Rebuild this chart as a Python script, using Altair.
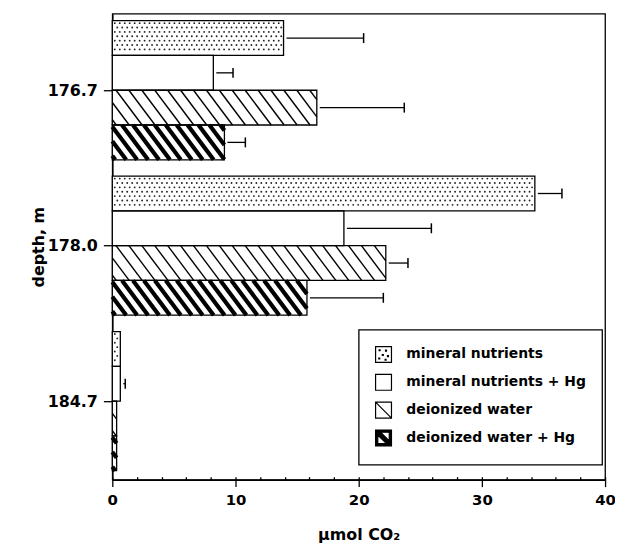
import json
import altair as alt
import pandas as pd

# ---------------- data ----------------
depths = ["176.7", "178.0", "184.7"]
series = ["mineral nutrients", "mineral nutrients + Hg",
          "deionized water", "deionized water + Hg"]
mn_mean = [13.9, 34.3, 0.65]
mn_hg_mean = [8.2, 18.8, 0.65]
dw_mean = [16.6, 22.2, 0.35]
dw_hg_mean = [9.1, 15.8, 0.35]
# end of the error bar (mean + sd); None = no error bar drawn
mn_top = [20.4, 36.5, None]
mn_hg_top = [9.8, 25.9, 1.05]
dw_top = [23.7, 24.0, None]
dw_hg_top = [10.8, 22.0, None]
x_ticks = [0, 10, 20, 30, 40]
x_minor_ticks = list(range(0, 41, 2))

# ---------------- layout parameters ----------------
W, H = 496, 469
X_MAX = 40
BAR = 1.0           # one bar = one y unit
GROUP_GAP = 0.47
TOP_PAD = 0.2
Y_MAX = 13.4
KX = W / X_MAX      # px per x unit
KY = H / Y_MAX      # px per y unit
PERIOD = len(series) * BAR + GROUP_GAP

means = [mn_mean, mn_hg_mean, dw_mean, dw_hg_mean]
tops = [mn_top, mn_hg_top, dw_top, dw_hg_top]

rows = []
for g, d in enumerate(depths):
    base = TOP_PAD + g * PERIOD
    for s, name in enumerate(series):
        y0 = base + s * BAR
        t = tops[s][g]
        rows.append(dict(depth=d, series=name, s=s, start=0.0,
                         value=means[s][g],
                         top=float("nan") if t is None else t,
                         y0=y0, y1=y0 + BAR, ymid=y0 + BAR / 2))
bars = pd.DataFrame(rows)


def hatch(recs, period_px, slope=0.75, phase=0.0):
    segs = []
    for r in recs:
        wpx = r["value"] * KX
        hpx = BAR * KY
        c = -slope * hpx + phase
        while c < wpx:
            t1 = max(0.0, -c / slope)
            t2 = min(hpx, (wpx - c) / slope)
            if t2 > t1:
                segs.append(dict(x=(c + slope * t1) / KX, x2=(c + slope * t2) / KX,
                                 y=r["y0"] + t1 / KY, y2=r["y0"] + t2 / KY))
            c += period_px
    return pd.DataFrame(segs)


def stipple(recs, dx=5.0, dy=4.4, margin=2.2):
    pts = []
    for r in recs:
        wpx = r["value"] * KX
        hpx = BAR * KY
        k = 0
        t = margin + 0.3
        while t < hpx - margin + 0.3:
            xo = margin + 0.3 + (dx / 2 if k % 2 else 0.0)
            while xo < wpx - margin + 0.3:
                pts.append(dict(x=xo / KX, y=r["y0"] + t / KY))
                xo += dx
            t += dy
            k += 1
    return pd.DataFrame(pts)


recs = bars.to_dict("records")
thin_hatch = hatch([r for r in recs if r["s"] == 2], 13.0, phase=4.0)
thick_hatch = hatch([r for r in recs if r["s"] == 3], 11.0, phase=3.0)
dots = stipple([r for r in recs if r["s"] == 0])

err = bars.dropna(subset=["top"]).copy()
err["xs"] = err["value"] + 3.0 / KX
err["c0"] = err["ymid"] - 5.0 / KY
err["c1"] = err["ymid"] + 5.0 / KY

ytick_vals = [TOP_PAD + g * PERIOD + len(series) * BAR / 2 for g in range(len(depths))]
label_expr = f"{json.dumps(depths)}[round((datum.value - {ytick_vals[0]}) / {PERIOD})]"

# ---------------- scales / axes ----------------
xs = alt.Scale(domain=[0, X_MAX], nice=False, zero=False)
ys = alt.Scale(domain=[0, Y_MAX], nice=False, zero=False, reverse=True)

main_x = alt.Axis(values=x_ticks, format="d", title="μmol CO₂", tickSize=7,
                  labelPadding=6, grid=False, orient="bottom", labelFlush=False,
                  titleY=60, titleBaseline="alphabetic", titleFontSize=16)
minor_x = alt.Axis(values=x_minor_ticks, tickSize=3, offset=-3, domain=False,
                   labels=False, title=None, grid=False, orient="bottom")
main_y = alt.Axis(values=ytick_vals, labelExpr=label_expr, title="depth, m",
                  tickSize=9, labelPadding=6, grid=False, orient="left",
                  labelFlush=False, labelFontSize=16,
                  titleX=-74, titleY=H / 2, titleBaseline="middle",
                  titleAlign="center", titleAngle=270, titleFontSize=16)

# ---------------- layers ----------------
bar_fill = alt.Chart(bars).mark_rect(fill="white").encode(
    x=alt.X("start:Q", scale=xs, axis=main_x), x2="value:Q",
    y=alt.Y("y0:Q", scale=ys, axis=main_y), y2="y1:Q")

thin = alt.Chart(thin_hatch).mark_rule(color="black", strokeWidth=1.4).encode(
    x=alt.X("x:Q", scale=xs, axis=None), x2="x2:Q",
    y=alt.Y("y:Q", scale=ys, axis=None), y2="y2:Q")

thick = alt.Chart(thick_hatch).mark_rule(color="black", strokeWidth=4.2).encode(
    x=alt.X("x:Q", scale=xs, axis=None), x2="x2:Q",
    y=alt.Y("y:Q", scale=ys, axis=None), y2="y2:Q")

stip = alt.Chart(dots).mark_circle(size=3.5, color="#222", opacity=1).encode(
    x=alt.X("x:Q", scale=xs, axis=None),
    y=alt.Y("y:Q", scale=ys, axis=None))

outline = alt.Chart(bars).mark_rect(fillOpacity=0, stroke="black", strokeWidth=1.3).encode(
    x=alt.X("start:Q", scale=xs, axis=None), x2="value:Q",
    y=alt.Y("y0:Q", scale=ys, axis=None), y2="y1:Q")

err_line = alt.Chart(err).mark_rule(color="black", strokeWidth=1.3).encode(
    x=alt.X("xs:Q", scale=xs, axis=minor_x), x2="top:Q",
    y=alt.Y("ymid:Q", scale=ys, axis=None))

err_cap = alt.Chart(err).mark_rule(color="black", strokeWidth=1.5).encode(
    x=alt.X("top:Q", scale=xs, axis=None),
    y=alt.Y("c0:Q", scale=ys, axis=None), y2="c1:Q")

sq = "M-1,-1L1,-1L1,1L-1,1Z"
dot_pts = [(-0.55, -0.6), (0.25, -0.55), (-0.15, 0.0), (0.5, 0.15), (-0.6, 0.45), (0.2, 0.6)]
p_mn = sq + "".join(f"M{x},{y}h0.12v0.12h-0.12Z" for x, y in dot_pts)
p_mn_hg = sq
p_dw = sq + "M-1,-1L1,1"
p_dw_hg = (sq + "M-0.37,-0.72L0.72,0.37L0.72,-0.72Z"
           + "M-0.72,-0.37L-0.72,0.72L0.37,0.72Z")
shape_range = [p_mn, p_mn_hg, p_dw, p_dw_hg]
fill_range = ["white", "white", "white", "black"]
stroke_range = ["black", "black", "black", "black"]

leg = alt.Legend(title=None, orient="none", legendX=248, legendY=318, padding=16,
                 strokeColor="black", symbolSize=256,
                 symbolStrokeWidth=1.2, symbolOpacity=1, labelFont="DejaVu Sans",
                 labelFontSize=14, labelFontWeight="bold", labelColor="black",
                 rowPadding=6, labelOffset=14, labelLimit=400)

legend_layer = alt.Chart(bars[bars["depth"] == depths[0]]).mark_point(
    filled=True, opacity=0).encode(
    x=alt.X("value:Q", scale=xs, axis=None),
    y=alt.Y("ymid:Q", scale=ys, axis=None),
    shape=alt.Shape("series:N", scale=alt.Scale(domain=series, range=shape_range), legend=leg),
    fill=alt.Fill("series:N", scale=alt.Scale(domain=series, range=fill_range), legend=leg),
    stroke=alt.Stroke("series:N", scale=alt.Scale(domain=series, range=stroke_range), legend=leg))

chart = alt.layer(
    bar_fill, thin, thick, stip, outline, err_line, err_cap, legend_layer
).resolve_axis(x="independent", y="independent").properties(
    width=W, height=H,
    padding={"left": 105, "top": 4, "right": 10, "bottom": 66},
    autosize=alt.AutoSizeParams(type="none"),
).configure_view(
    stroke="black", strokeWidth=1.3
).configure_axis(
    domainColor="black", tickColor="black", labelColor="black", titleColor="black",
    labelFont="DejaVu Sans", titleFont="DejaVu Sans", labelFontWeight="bold",
    titleFontWeight="bold", labelFontSize=15, domainWidth=1.5, tickWidth=1.3
).configure_legend(strokeWidth=1.3)

chart.save("out.html", embed_options={"renderer": "svg", "actions": False})
